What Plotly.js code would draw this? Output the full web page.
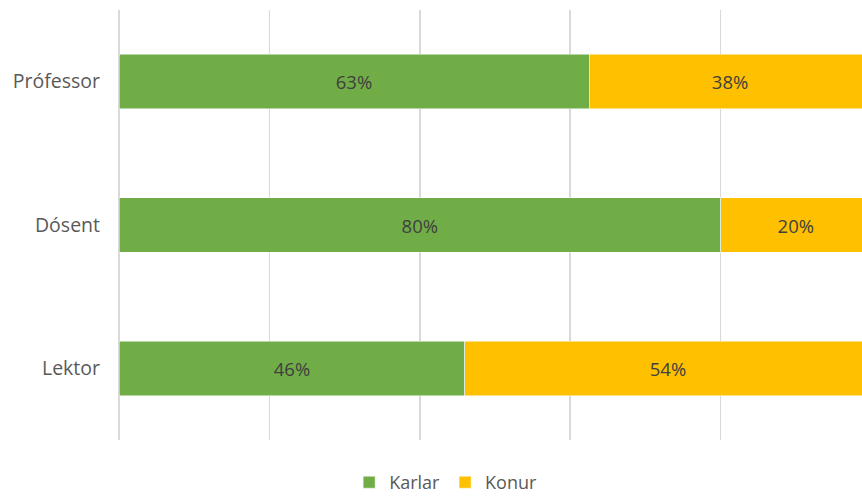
<!DOCTYPE html>
<html><head><meta charset="utf-8">
<script src="https://cdn.plot.ly/plotly-3.0.1.min.js"></script>
<style>html,body{margin:0;padding:0;background:#fff}#c{width:862px;height:500px}</style>
</head><body><div id="c"></div>
<script>
const categories = ["Lektor", "Dósent", "Prófessor"];
const karlar = [0.46, 0.80, 0.625];
const konur = [0.54, 0.20, 0.375];
const seriesNames = ["Karlar", "Konur"];

const font = {family: "Open Sans, sans-serif", color: "#595959"};
const common = {
  type: "bar", orientation: "h", y: categories,
  texttemplate: "%{x:.0%}", textposition: "inside", insidetextanchor: "middle",
  textfont: {family: "Open Sans, sans-serif", size: 18.5, color: "#404040"},
  hoverinfo: "skip", cliponaxis: true
};
const data = [
  Object.assign({}, common, {x: karlar, name: seriesNames[0], marker: {color: "#70AD47", line: {color: "#ffffff", width: 0.5}}}),
  Object.assign({}, common, {x: konur, name: seriesNames[1], marker: {color: "#FFC000", line: {color: "#ffffff", width: 0.5}}})
];
const layout = {
  width: 862, height: 500,
  margin: {l: 119, r: 0, t: 10, b: 60, autoexpand: false},
  barmode: "stack", bargap: 0.62,
  paper_bgcolor: "#fff", plot_bgcolor: "#fff",
  font: font,
  xaxis: {range: [0, 0.988], dtick: 0.2, showticklabels: false, showgrid: true, gridcolor: "#D9D9D9", gridwidth: 1.5, zeroline: true, zerolinecolor: "#D9D9D9", zerolinewidth: 1.5, fixedrange: true},
  yaxis: {showgrid: false, zeroline: false, ticks: "", ticklabelstandoff: 18, tickfont: {size: 19.5, color: "#595959", family: "Open Sans, sans-serif"}},
  showlegend: true,
  legend: {orientation: "h", x: 0.517, xanchor: "center", xref: "container", yref: "container", y: 0.035, yanchor: "middle", font: {size: 18, color: "#595959"}, traceorder: "normal", itemwidth: 30}
};
Plotly.newPlot("c", data, layout, {displayModeBar: false, staticPlot: true});
</script></body></html>
